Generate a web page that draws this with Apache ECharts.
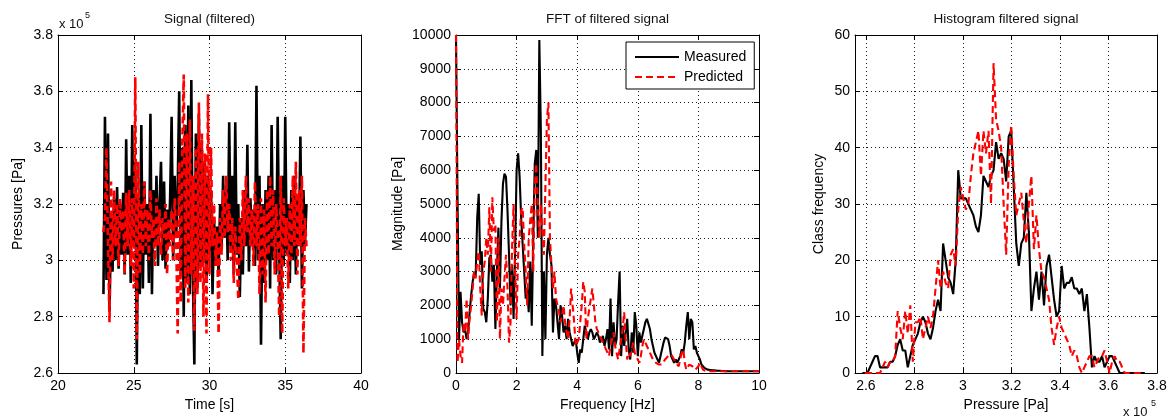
<!DOCTYPE html>
<html>
<head>
<meta charset="utf-8">
<title>Signal, FFT and histogram</title>
<script src="https://cdn.jsdelivr.net/npm/echarts/dist/echarts.min.js"></script>
<style>
  html, body { margin: 0; padding: 0; background: #fff; }
  #chart { width: 1173px; height: 418px; }
</style>
</head>
<body>
<div id="chart"></div>
<script>
// ---------------------------------------------------------------------------
// Data
// ---------------------------------------------------------------------------

// Filtered pressure signal, sampled every 0.1 s from 23.0 s (values in 10^5 Pa)
const signalTimeStart = 23.0;
const signalTimeStep = 0.1;
const measuredSignal = [
  2.88, 3.51, 2.93, 3.45, 2.82, 3.15, 2.96, 3.22, 3.00, 3.26,
  2.97, 3.20, 3.02, 3.24, 2.95, 3.43, 3.02, 3.30, 2.92, 3.48,
  3.05, 3.35, 2.63, 3.22, 2.88, 3.48, 2.90, 3.28, 3.02, 3.20,
  2.92, 3.52, 2.88, 3.25, 3.05, 3.30, 2.98, 3.20, 3.35, 3.00,
  3.28, 2.97, 3.18, 3.05, 3.22, 3.51, 3.00, 3.30, 3.08, 3.25,
  3.60, 2.95, 3.40, 2.80, 3.48, 2.92, 3.55, 2.88, 3.64, 2.95,
  2.63, 3.45, 2.90, 3.52, 2.98, 3.40, 3.00, 3.35, 2.92, 3.30,
  3.02, 3.25, 2.88, 3.15, 2.98, 3.12, 2.95, 3.20, 3.05, 3.30,
  3.08, 3.25, 3.00, 3.49, 3.05, 3.30, 2.95, 3.49, 3.02, 3.20,
  2.87, 3.15, 2.95, 3.25, 3.05, 3.41, 2.96, 3.22, 3.05, 3.18,
  2.98, 3.62, 3.00, 3.30, 2.70, 3.20, 2.92, 3.25, 3.00, 3.30,
  2.90, 3.48, 3.00, 3.25, 2.95, 3.51, 3.05, 2.72, 3.30, 2.98,
  3.51, 3.02, 3.20, 2.92, 3.25, 3.00, 3.30, 2.95, 3.22, 3.05,
  3.44, 2.90, 3.25, 3.05, 3.20
];
const predictedSignal = [
  3.10, 3.15, 3.40, 3.05, 2.78, 3.28, 3.00, 3.25, 3.05, 3.20,
  2.98, 3.22, 3.10, 3.18, 2.95, 3.24, 3.05, 3.25, 2.98, 3.22,
  2.90, 3.65, 2.72, 3.35, 2.95, 3.20, 3.02, 3.28, 3.05, 3.18,
  3.00, 3.25, 3.08, 3.15, 2.98, 3.22, 3.05, 3.18, 3.02, 3.15,
  3.08, 3.20, 2.95, 3.15, 3.05, 3.18, 3.00, 3.22, 3.08, 2.74,
  3.35, 2.85, 3.40, 3.66, 2.90, 3.45, 2.85, 3.50, 2.95, 3.30,
  2.75, 3.40, 2.88, 3.56, 2.92, 3.45, 2.80, 3.38, 2.74, 3.59,
  2.95, 3.40, 3.05, 3.20, 2.98, 3.10, 2.74, 3.15, 3.02, 3.25,
  3.08, 3.30, 3.10, 3.20, 3.00, 3.15, 2.92, 3.12, 3.00, 2.86,
  3.15, 3.00, 3.25, 3.05, 3.30, 3.10, 3.22, 3.05, 3.18, 2.98,
  3.28, 3.05, 3.20, 2.88, 3.22, 2.95, 3.18, 2.85, 3.25, 3.02,
  3.30, 3.05, 3.25, 2.95, 3.20, 3.08, 2.80, 3.30, 2.74, 3.22,
  3.05, 3.15, 2.90, 3.20, 3.00, 3.30, 3.05, 3.35, 2.95, 3.25,
  3.05, 3.30, 2.67, 3.15, 3.05
];

// Spectrum magnitude [Pa], bins every 0.05 Hz from 0 to 10 Hz
const fftFreqStep = 0.05;
const measuredFft = [
  10000, 5200, 1000, 2400, 1500, 1200, 1300, 1000, 1200, 1800,
  2300, 2700, 3000, 2900, 4600, 5300, 3200, 3600, 1900, 1800,
  1500, 2200, 3400, 3500, 2700, 3200, 1300, 3000, 4300, 2500,
  4500, 5600, 5900, 5800, 4800, 3500, 2000, 3200, 1600, 3500,
  6000, 6500, 5800, 4600, 3800, 3000, 2200, 2500, 1800, 3300,
  1400, 4000, 6200, 6600, 4000, 9850, 7200, 500, 3000, 1000,
  3500, 4000, 3500, 3200, 1200, 2200, 2000, 1500, 1000, 2000,
  1700, 1200, 1400, 1000, 1600, 1200, 1000, 800, 900, 1000,
  600, 300, 700, 600, 1000, 1400, 1200, 1000, 1200, 1300,
  1200, 1000, 1100, 1200, 1100, 900, 1000, 1100, 800, 1000,
  1300, 700, 2200, 500, 1500, 800, 1000, 2100, 3000, 500,
  1400, 800, 1200, 1600, 700, 400, 1200, 600, 1800, 1400,
  500, 1200, 900, 1100, 1300, 1500, 1600, 1550, 1300, 1000,
  800, 600, 500, 400, 300, 500, 700, 900, 1050, 1100,
  1000, 800, 500, 400, 300, 400, 300, 400, 500, 700,
  600, 900, 1400, 1800, 1000, 1600, 1500, 700, 800, 600,
  500, 400, 250, 200, 150, 120, 100, 100, 90, 80,
  80, 75, 70, 70, 65, 60, 60, 55, 55, 50,
  50, 50, 50, 50, 50, 50, 50, 50, 50, 50,
  50, 50, 50, 50, 50, 50, 50, 50, 50, 50,
  50
];
const predictedFft = [
  10000, 300, 1000, 500, 300, 1500, 1200, 2200, 1000, 1600,
  2000, 2500, 3000, 2800, 3300, 3600, 2500, 1700, 3000, 3300,
  4000, 3500, 4900, 3000, 5200, 4200, 4400, 1500, 4000, 1000,
  2500, 2000, 2800, 3500, 2500, 900, 1500, 3700, 5000, 3000,
  1600, 3500, 4000, 4800, 4900, 3800, 3000, 2000, 4000, 4500,
  5000, 3000, 5500, 6200, 5000, 4000, 5000, 4200, 3500, 5500,
  7500, 8000, 4000, 3200, 2500, 3000, 2200, 2000, 1800, 1500,
  1700, 2000, 1500, 1200, 1000, 1600, 2500, 2000, 1500, 800,
  900, 1000, 1500, 2000, 2700, 2400, 1000, 1600, 1900, 2200,
  2500, 2000, 1500, 1300, 1200, 1100, 1000, 900, 800, 700,
  700, 500, 800, 1000, 1200, 800, 600, 400, 700, 1000,
  1300, 1800, 1000, 400, 600, 500, 700, 900, 600, 500,
  400, 300, 500, 800, 1000, 900, 800, 700, 700, 500,
  400, 350, 300, 350, 250, 200, 250, 300, 400, 400,
  500, 450, 550, 600, 400, 300, 250, 200, 400, 600,
  700, 300, 100, 150, 250, 300, 200, 150, 100, 150,
  200, 300, 250, 100, 60, 50, 50, 50, 50, 50,
  50, 50, 50, 50, 50, 50, 50, 50, 50, 50,
  50, 50, 50, 50, 50, 50, 50, 50, 50, 50,
  50, 50, 50, 50, 50, 50, 50, 50, 50, 50,
  50
];

// Histogram class counts; classes start at 2.575 x 10^5 Pa, width 0.0104 x 10^5 Pa
const histClassStart = 2.575;
const histClassWidth = 0.0104;
const measuredHist = [
  null, 0, 0, 0, 1, 2, 3, 3, 1, 1,
  1, 1, 2, 2, 3, 5, 6, 4, 4, 1,
  3, 5, 6, 7, 9, 10, 9, 7, 6, 8,
  11, 13, 11, 23, 20, 17, 16, 14, 20, 36,
  31, 31, 31, 30, 29, 28, 26, 25, 28, 35,
  34, 33, 35, 36, 41, 38, 39, 38, 34, 42,
  43, 33, 23, 19, 23, 24, 32, 25, 11, 15,
  18, 13, 18, 12, 19, 21, 17, 13, 10, 11,
  19, 15, 16, 16, 17, 15, 15, 14, 15, 11,
  14, 8, 1, 3, 2, 2, 3, 1, 2, 3,
  3, 2, 1, 0, 0, 0, 0, 0, 0, 0,
  0, 0, 0, 0
];
const predictedHist = [
  null, null, 0, 0, 0, 0, 0, 0, 0, 1,
  2, 1, 2, 2, 3, 11, 8, 6, 11, 7,
  12, 2, 9, 9, 10, 6, 8, 10, 8, 10,
  15, 20, 15, 18, 16, 15, 21, 22, 19, 29,
  33, 31, 29, 30, 35, 39, 41, 43, 35, 43,
  39, 43, 30, 55, 45, 43, 40, 30, 21, 37,
  44, 35, 28, 30, 32, 27, 23, 30, 35, 22,
  28, 22, 18, 17, 15, 13, 8, 5, 8, 10,
  8, 7, 6, 5, 3, 4, 3, 1, 0, 1,
  2, 3, 3, 1, 2, 3, 3, 4, 2, 0,
  2, 3, 2, 2, 1, 0, 0, 0, 0, 0,
  0, 0, 0, 0
];

// Axis ticks
const pressureTicks = [2.6, 2.8, 3.0, 3.2, 3.4, 3.6, 3.8];
const panelTitles = ['Signal (filtered)', 'FFT of filtered signal', 'Histogram filtered signal'];
const seriesNames = ['Measured', 'Predicted'];

// ---------------------------------------------------------------------------
// Chart
// ---------------------------------------------------------------------------
const FONT = '"Liberation Sans", Arial, Helvetica, sans-serif';
const INK = '#000';
const RED = '#ff0000';

const grids = [
  { left: 58, top: 35, width: 303, height: 338 },
  { left: 456, top: 35, width: 303, height: 338 },
  { left: 855, top: 35, width: 302, height: 338 }
];

// Stroke width per panel: the time trace is drawn heavier
const panelLineWidth = [2.6, 2.1, 2.1];

function pairs(start, step, values) {
  return values.map((v, i) => [+(start + i * step).toFixed(5), v]);
}

function trimNum(v) {
  return String(parseFloat(Number(v).toFixed(3)));
}

function dottedGrid(extra) {
  return Object.assign({
    show: true,
    lineStyle: { color: INK, width: 1, type: [1, 3], opacity: 0.9 }
  }, extra || {});
}

// Primary (labelled) axis on the bottom or left edge of a panel
function mainAxis(gridIndex, position, range, extra) {
  const isX = position === 'bottom';
  return Object.assign({
    gridIndex: gridIndex,
    type: 'value',
    position: position,
    min: range[0],
    max: range[1],
    axisLine: { show: true, onZero: false, lineStyle: { color: INK, width: 1 } },
    axisTick: { show: true, inside: true, length: 5, lineStyle: { color: INK, width: 1 } },
    axisLabel: {
      show: true, color: INK, fontSize: 14, fontFamily: FONT,
      margin: isX ? 6 : 5, showMinLabel: true, showMaxLabel: true,
      hideOverlap: false, formatter: trimNum
    },
    splitLine: dottedGrid(),
    nameLocation: 'middle',
    nameTextStyle: { color: INK, fontSize: 14, fontFamily: FONT }
  }, extra);
}

// Mirror axis on the top or right edge: box line and inward ticks only
function mirrorAxis(gridIndex, position, range, extra) {
  return Object.assign({
    gridIndex: gridIndex,
    type: 'value',
    position: position,
    min: range[0],
    max: range[1],
    axisLine: { show: true, onZero: false, lineStyle: { color: INK, width: 1 } },
    axisTick: { show: true, inside: true, length: 5, lineStyle: { color: INK, width: 1 } },
    axisLabel: { show: false },
    splitLine: { show: false }
  }, extra);
}

const pressureAxisRange = [2.555, 3.8];

const xAxes = [
  mainAxis(0, 'bottom', [20, 40], { interval: 5, name: 'Time [s]', nameGap: 22 }),
  mirrorAxis(0, 'top', [20, 40], { interval: 5 }),
  mainAxis(1, 'bottom', [0, 10], { interval: 2, name: 'Frequency [Hz]', nameGap: 22 }),
  mirrorAxis(1, 'top', [0, 10], { interval: 2 }),
  mainAxis(2, 'bottom', pressureAxisRange, {
    name: 'Pressure [Pa]', nameGap: 22,
    axisTick: { show: true, inside: true, length: 5, customValues: pressureTicks, lineStyle: { color: INK, width: 1 } },
    axisLabel: {
      show: true, color: INK, fontSize: 14, fontFamily: FONT, margin: 6,
      customValues: pressureTicks, formatter: trimNum, hideOverlap: false
    },
    splitLine: dottedGrid({ customValues: pressureTicks })
  }),
  mirrorAxis(2, 'top', pressureAxisRange, {
    axisTick: { show: true, inside: true, length: 5, customValues: pressureTicks, lineStyle: { color: INK, width: 1 } }
  })
];

const yAxes = [
  mainAxis(0, 'left', [2.6, 3.8], { interval: 0.2, name: 'Pressures [Pa]', nameGap: 33 }),
  mirrorAxis(0, 'right', [2.6, 3.8], { interval: 0.2 }),
  mainAxis(1, 'left', [0, 10000], { interval: 1000, name: 'Magnitude [Pa]', nameGap: 51 }),
  mirrorAxis(1, 'right', [0, 10000], { interval: 1000 }),
  mainAxis(2, 'left', [0, 60], { interval: 10, name: 'Class frequency', nameGap: 29 }),
  mirrorAxis(2, 'right', [0, 60], { interval: 10 })
];

function lineSeries(name, panel, data) {
  const measured = name === seriesNames[0];
  const w = panelLineWidth[panel];
  return {
    name: name,
    type: 'line',
    xAxisIndex: panel * 2,
    yAxisIndex: panel * 2,
    data: data,
    symbol: 'none',
    showSymbol: false,
    smooth: false,
    connectNulls: false,
    animation: false,
    z: measured ? 2 : 3,
    lineStyle: measured
      ? { color: INK, width: w, type: 'solid' }
      : { color: RED, width: w, type: [7, 4] },
    itemStyle: { color: measured ? INK : RED },
    emphasis: { disabled: true }
  };
}

const series = [
  lineSeries('Measured', 0, pairs(signalTimeStart, signalTimeStep, measuredSignal)),
  lineSeries('Predicted', 0, pairs(signalTimeStart, signalTimeStep, predictedSignal)),
  lineSeries('Measured', 1, pairs(0, fftFreqStep, measuredFft)),
  lineSeries('Predicted', 1, pairs(0, fftFreqStep, predictedFft)),
  lineSeries('Measured', 2, pairs(histClassStart, histClassWidth, measuredHist)),
  lineSeries('Predicted', 2, pairs(histClassStart, histClassWidth, predictedHist))
];

function label(x, y, text, size, align, valign) {
  return {
    type: 'text', x: x, y: y, silent: true,
    style: {
      text: text, fill: '#111', font: size + 'px ' + FONT,
      align: align, verticalAlign: valign,
      textAlign: align, textVerticalAlign: valign
    }
  };
}

const graphics = [];
panelTitles.forEach((t, i) => {
  graphics.push(label(grids[i].left + grids[i].width / 2, 19, t, 13.5, 'center', 'middle'));
});
// Exponent notes for the pressure axes
graphics.push(label(59, 24, 'x 10', 13, 'left', 'middle'));
graphics.push(label(85, 16, '5', 9, 'left', 'middle'));
graphics.push(label(1123, 412, 'x 10', 13, 'left', 'middle'));
graphics.push(label(1151, 404, '5', 9, 'left', 'middle'));

const option = {
  backgroundColor: '#fff',
  animation: false,
  textStyle: { fontFamily: FONT },
  grid: grids.map(g => Object.assign({ containLabel: false, outerBoundsMode: 'none', show: false }, g)),
  xAxis: xAxes,
  yAxis: yAxes,
  legend: {
    data: seriesNames,
    orient: 'vertical',
    left: 626,
    top: 42,
    padding: [8, 8, 5, 8],
    itemWidth: 44,
    // a thin item keeps the line sample free of a marker dot
    itemHeight: 1,
    itemGap: 6,
    itemStyle: { opacity: 0 },
    lineStyle: { width: 2 },
    backgroundColor: '#fff',
    borderColor: INK,
    borderWidth: 1,
    borderRadius: 0,
    selectedMode: false,
    textStyle: { color: INK, fontSize: 14, fontFamily: FONT }
  },
  graphic: graphics,
  series: series
};

const chart = echarts.init(document.getElementById('chart'), null, { renderer: 'canvas' });
chart.setOption(option);
</script>
</body>
</html>
